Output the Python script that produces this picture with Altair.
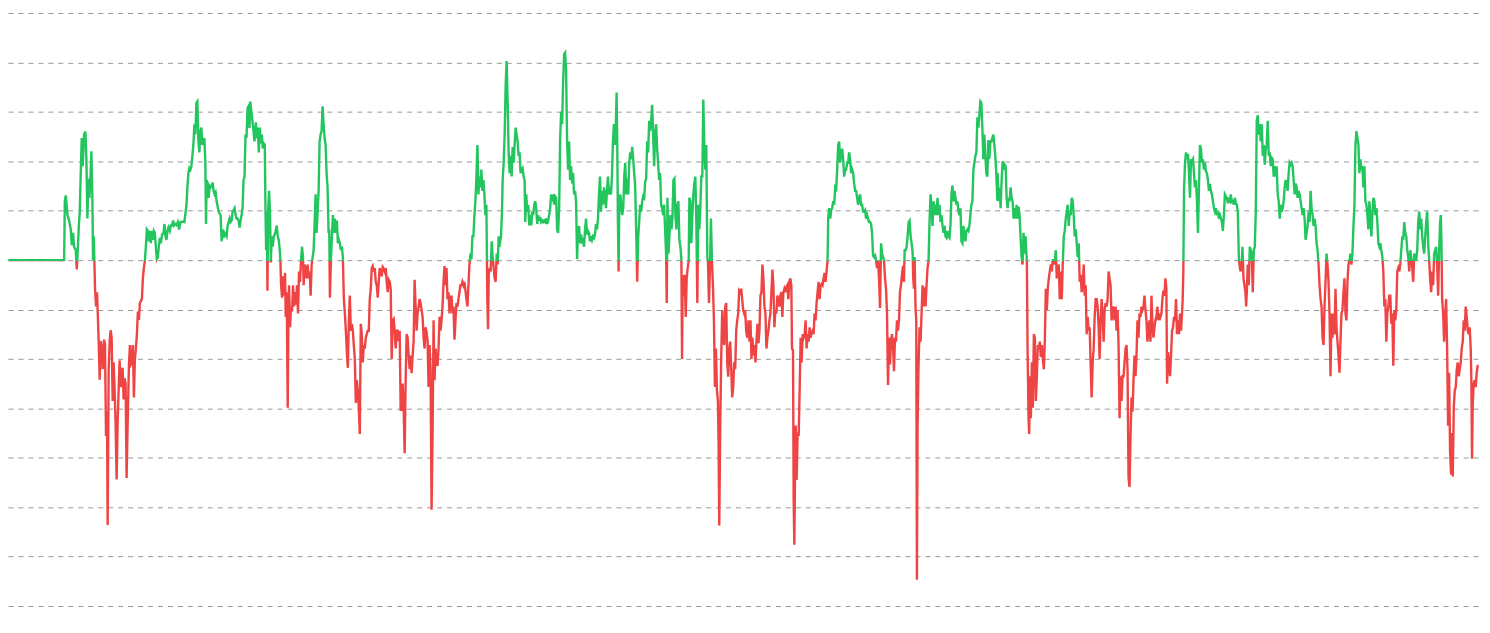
import altair as alt
import pandas as pd

# (time index, spread value) pairs, split into segments
seg_a = [(22,0),(190,0),(192,1.19),(195,1.31),(200,0.91),(205,0.8),(210,0.62),(213,0.3),(217,0.55),(220,0.27),(225,0.2),(228,-0.19),(231,0.2),(234,0.66),(237,0.98),(240,1.76),(243,2.47),(246,1.9),(250,2.54),(254,2.6),(257,2.04),(260,0.84),(263,1.65),(266,1.26),(269,1.62),(272,2.2),(275,1.26),(277,0),(279,0.48),(281,0),(283,-0.58),(286,-0.94),(289,-0.65),(291,-1.04),(294,-1.64),(297,-2.42),(300,-1.64),(303,-1.77),(306,-2.21),(310,-1.61),(313,-1.7),(316,-3.56),(319,-3.06),(321,-5.36),(324,-2.21),(327,-1.64),(330,-1.42),(333,-1.57),(336,-2.85),(339,-2.07),(342,-2.64),(345,-3.35),(348,-4.44),(351,-3.28),(354,-2.64),(357,-2.03),(360,-2.57),(363,-2.28),(366,-2.18),(369,-2.82),(372,-2.39),(375,-2.5),(378,-4.41),(381,-3.35),(385,-2.14),(388,-1.72),(391,-2.11),(394,-2.07),(397,-1.72),(400,-2.78),(403,-2.0),(406,-1.79),(409,-1.5),(412,-1.04),(415,-1.21),(418,-0.87),(421,-0.83),(424,-0.79),(427,-0.37),(430,-0.16),(433,-0.01),(436,0.27),(439,0.62),(442,0.59),(445,0.38),(448,0.59),(451,0.34),(454,0.59),(457,0.41),(460,0.59),(463,0.55),(466,0.27),(469,0.02),(472,0.06),(475,0.27),(478,0.45),(481,0.34),(485,0.52),(489,0.55),(492,0.73),(495,0.48),(498,0.41),(501,0.59),(504,0.66),(508,0.59),(511,0.7),(515,0.7),(518,0.8),(521,0.7),(525,0.73),(528,0.71),(532,0.77),(536,0.62),(540,0.77),(544,0.77),(548,0.78),(552,0.77),(555,0.94),(558,1.09),(561,1.47),(564,1.76),(567,1.86),(570,1.83),(573,1.9),(576,2.11),(579,2.33),(582,2.75),(585,2.54),(588,3.18),(591,3.21),(594,2.43),(597,2.18),(600,2.6),(603,2.68),(606,2.33),(609,2.4),(612,2.47),(615,2.01),(617,0.73),(619,1.62),(622,1.55),(625,1.26),(628,1.5),(631,1.47),(634,1.5),(637,1.57),(640,1.4),(643,1.33),(646,1.37),(649,1.19),(652,1.09),(655,0.98),(658,0.94),(661,0.91),(664,0.38),(667,0.62),(670,0.45),(673,0.55),(676,0.52),(679,0.48),(682,0.69),(685,0.77),(688,0.84),(691,0.77),(694,0.8),(697,0.98),(700,1.01),(703,1.05),(706,0.91),(709,0.84),(712,0.84),(715,0.8),(718,0.66),(721,0.8),(724,0.91),(727,1.05),(730,1.62),(733,1.69),(736,2.54),(739,2.47),(742,3.07),(745,3.11),(748,2.67)]

seg_b = [(750,3.21),(755,2.93),(760,2.61),(763,2.4),(767,2.79),(770,2.47),(773,2.68),(776,2.18),(779,2.68),(782,2.36),(785,2.54),(788,2.26),(791,2.36),(794,2.33),(796,1.05),(798,0.2),(800,0.98),(802,-0.62),(804,0.98),(807,1.4),(810,0.84),(812,-0.05),(815,0.48),(818,0.27),(821,0.48),(824,0.52),(827,0.59),(830,0.7),(833,0.48),(836,0.41),(839,0.2),(841,-0.01),(843,-0.51),(846,-0.76),(849,-0.33),(852,-0.72),(855,-0.26),(857,-1.15),(860,-0.65),(863,-2.99),(865,-1.22),(867,-0.51),(870,-1.36),(873,-0.94),(876,-1.04),(879,-0.51),(882,-0.94),(885,-0.65),(888,-0.9),(891,-0.51),(894,-1.08),(897,-0.23),(900,-0.44),(903,-0.01),(906,0.27),(909,0.06),(911,-0.51),(914,-0.09),(917,-0.19),(920,-0.37),(923,-0.09),(926,-0.37),(929,-0.23),(932,-0.72),(935,-0.09),(938,0.06),(941,0.2),(944,0.77),(947,1.33),(950,0.55),(953,0.98),(956,1.4),(959,2.4),(962,2.54),(965,2.61),(968,3.11),(971,2.75),(974,2.47),(977,2.33),(980,1.76),(983,1.47),(986,0.55),(988,0.62),(990,-0.76),(993,-0.01),(996,0.48),(999,0.91),(1002,0.55),(1005,0.84),(1008,0.55),(1011,0.8),(1014,0.34),(1017,0.41),(1020,0.34),(1023,0.2),(1026,0.27),(1029,0.06),(1032,-0.79),(1035,-1.08),(1038,-1.43),(1041,-1.86),(1044,-2.18),(1047,-1.22),(1050,-0.72),(1053,-1.43),(1056,-1.29),(1059,-1.43),(1062,-1.72),(1065,-2.0),(1068,-2.89),(1071,-2.43),(1074,-2.64),(1077,-2.99),(1080,-3.52),(1083,-1.29),(1086,-1.5),(1089,-2.07),(1092,-1.72),(1095,-1.79),(1098,-1.57),(1101,-1.5),(1104,-1.43),(1107,-1.43),(1110,-0.79),(1113,-0.58),(1116,-0.16),(1119,-0.12),(1122,-0.23),(1125,-0.16),(1128,-0.44),(1131,-0.51),(1134,-0.76),(1137,-0.44),(1140,-0.16),(1143,-0.23),(1146,-0.33),(1149,-0.14),(1152,-0.17),(1155,-0.23),(1158,-0.16),(1161,-0.44),(1164,-0.65),(1167,-0.4),(1170,-0.44),(1173,-0.58),(1176,-2.0),(1179,-1.22),(1182,-1.19),(1185,-1.43),(1188,-1.79),(1191,-1.43),(1194,-1.43),(1197,-1.64),(1200,-1.43),(1203,-3.03),(1206,-3.03),(1209,-2.5),(1212,-3.0),(1215,-3.91),(1218,-2.43),(1221,-1.5),(1224,-1.57),(1227,-1.93),(1230,-2.21),(1233,-1.93),(1236,-2.29),(1239,-1.93),(1242,-1.64),(1245,-0.4),(1248,-0.94),(1251,-1.43),(1254,-1.08),(1257,-0.94),(1260,-0.79),(1263,-0.87),(1266,-1.01),(1269,-1.15),(1272,-1.57),(1275,-1.79),(1278,-1.36),(1281,-1.46),(1284,-1.64),(1287,-2.57),(1290,-1.72),(1293,-2.21),(1296,-5.05),(1299,-3.56),(1302,-1.22),(1305,-2.43),(1308,-1.79),(1311,-2.07),(1314,-2.14),(1317,-1.79),(1320,-1.15),(1323,-1.43),(1326,-1.22),(1329,-0.94),(1332,-0.44),(1335,-0.12),(1338,-0.51),(1341,-0.16),(1344,-0.79),(1347,-0.65),(1350,-1.08),(1353,-0.79),(1356,-0.72),(1359,-1.08),(1362,-0.94),(1365,-1.61),(1368,-1.22),(1371,-0.87),(1374,-0.94),(1377,-0.79),(1380,-0.65),(1383,-0.51),(1386,-0.51),(1389,-0.44),(1392,-0.51),(1395,-0.44),(1398,-0.62),(1401,-0.79),(1404,-0.94),(1407,-0.51),(1410,-0.09),(1413,0.13),(1416,0.02),(1419,0.48),(1422,0.48),(1425,0.91),(1428,1.19),(1431,1.68),(1434,2.33),(1437,1.33),(1440,1.69),(1443,1.47),(1446,1.83),(1449,1.4),(1452,1.62),(1455,1.33),(1458,0.91),(1461,1.12),(1464,-0.83),(1466,-1.4),(1468,-0.3),(1471,-0.16),(1474,-0.23),(1477,0.38),(1480,0.06),(1483,-0.16),(1486,-0.37),(1489,-0.44),(1492,0.13),(1495,-0.09),(1498,0.48)]

seg_c = [(1500,0.27),(1505,0.48),(1508,0.98),(1510,1.62),(1513,1.97),(1516,2.54),(1519,3.53),(1522,4.03),(1525,3.21),(1528,2.18),(1531,1.76),(1534,2.11),(1537,1.69),(1540,2.29),(1543,1.97),(1546,2.33),(1549,2.68),(1552,2.54),(1555,2.4),(1558,2.11),(1561,2.18),(1564,1.76),(1567,1.83),(1570,1.86),(1573,1.69),(1576,1.62),(1578,0.77),(1581,1.33),(1584,0.98),(1587,1.12),(1590,0.7),(1593,0.91),(1596,0.7),(1599,0.98),(1602,0.91),(1605,1.12),(1608,1.19),(1611,1.05),(1614,0.73),(1617,0.91),(1620,0.8),(1623,0.87),(1626,0.77),(1629,0.8),(1632,0.77),(1635,0.8),(1638,0.77),(1641,0.84),(1644,0.73),(1647,0.8),(1650,0.91),(1653,1.05),(1656,1.33),(1659,1.19),(1662,1.33),(1665,1.12),(1668,1.29),(1671,1.26),(1674,0.62),(1677,0.55),(1680,1.05),(1683,2.43),(1686,3.0),(1689,2.75),(1692,3.6),(1695,4.17),(1698,4.2),(1701,3.82),(1704,2.4),(1707,1.83),(1710,2.4),(1713,1.62),(1716,1.9),(1719,1.55),(1722,1.76),(1725,1.33),(1728,1.4),(1731,1.19),(1734,0.02),(1737,0.62),(1740,0.69),(1743,0.34),(1746,0.52),(1749,0.38),(1752,0.41),(1755,0.27),(1758,0.62),(1761,0.84),(1764,0.52),(1767,0.59),(1770,0.55),(1773,0.38),(1776,0.48),(1779,0.41),(1782,0.48),(1785,0.45),(1788,0.52),(1791,0.73),(1794,0.62),(1797,0.84),(1800,1.33),(1803,1.69),(1806,0.98),(1809,1.4),(1812,1.12),(1815,1.47),(1818,1.33),(1821,1.05),(1824,1.4),(1827,1.69),(1830,1.33),(1833,1.4),(1836,1.33),(1839,1.69),(1842,2.4),(1845,2.75),(1848,2.33),(1851,2.82),(1853,3.39),(1855,2.33),(1857,0.77),(1859,-0.23),(1861,0.98),(1864,1.33),(1867,1.12),(1870,0.91),(1873,1.05),(1876,1.69),(1879,1.97),(1882,1.33),(1885,1.65),(1888,1.33),(1891,1.97),(1894,2.18),(1897,2.04),(1900,2.29),(1903,2.04),(1906,1.76),(1909,1.47),(1912,0.59),(1915,-0.44),(1918,0.48),(1921,0.77),(1924,1.12),(1927,0.98),(1930,1.19),(1933,1.29),(1936,1.26),(1939,1.58),(1942,1.65),(1945,2.4),(1948,2.18),(1951,2.82),(1954,2.61),(1957,2.82),(1960,3.14),(1963,2.54),(1966,1.9),(1969,2.54),(1972,2.75),(1975,2.25),(1978,1.97),(1981,1.62),(1984,1.76),(1987,1.12),(1990,1.05),(1993,0.91),(1996,1.12),(1999,0.62),(2002,0.13),(2004,-0.87),(2006,1.26),(2009,0.13),(2012,0.48),(2015,0.91),(2018,0.62),(2021,0.84),(2024,1.62),(2027,1.65),(2030,0.91),(2033,0.62),(2036,1.12),(2039,1.19),(2042,0.41),(2045,0.27),(2048,0.02),(2050,-2.0),(2052,-0.3),(2055,-0.72),(2058,-0.3),(2061,-1.15),(2064,-0.37),(2067,-0.16),(2070,-0.01),(2072,1.26),(2075,1.19),(2078,0.34),(2081,0.91),(2084,1.33),(2087,1.55),(2090,1.69),(2093,0.77),(2096,-0.87),(2099,1.12),(2102,0.62),(2105,1.05),(2108,1.69),(2111,1.69),(2114,3.25),(2117,2.33),(2120,1.83),(2123,2.33),(2126,0.06),(2128,-0.01),(2131,-0.87),(2134,-0.16),(2137,0.84),(2140,-0.01),(2143,-0.51),(2146,-1.22),(2149,-2.57),(2152,-1.79),(2155,-2.64),(2158,-2.85),(2160,-3.7),(2162,-5.37),(2165,-3.35),(2168,-1.93),(2171,-1.01),(2174,-1.57),(2177,-1.72),(2180,-0.94),(2183,-0.87),(2186,-2.07),(2189,-2.36),(2192,-1.79),(2195,-1.65),(2198,-2.21),(2201,-2.78),(2204,-2.57),(2207,-2.07),(2210,-2.21),(2213,-1.43),(2216,-1.22),(2219,-1.08),(2222,-0.62),(2225,-0.65),(2228,-0.58),(2231,-0.79),(2234,-1.01),(2237,-1.08),(2240,-1.01),(2243,-1.43),(2246,-1.57),(2249,-1.36)]

seg_d = [(2250,-1.22),(2253,-1.65),(2256,-1.22),(2259,-2.0),(2262,-1.57),(2265,-1.93),(2268,-1.72),(2271,-2.07),(2274,-1.65),(2277,-1.29),(2280,-1.68),(2283,-1.43),(2286,-0.72),(2289,-0.65),(2292,-0.09),(2295,-0.37),(2298,-0.94),(2301,-1.08),(2304,-1.79),(2307,-1.57),(2310,-1.43),(2313,-1.22),(2316,-1.08),(2319,-0.65),(2322,-0.19),(2325,-0.51),(2328,-1.36),(2331,-1.01),(2334,-1.08),(2337,-0.72),(2340,-0.79),(2343,-0.94),(2346,-0.72),(2349,-0.65),(2352,-1.15),(2355,-0.65),(2358,-0.58),(2361,-0.65),(2364,-0.55),(2367,-0.51),(2370,-0.79),(2373,-0.44),(2376,-0.37),(2379,-0.51),(2381,-1.79),(2384,-1.82),(2386,-4.84),(2388,-5.76),(2390,-4.41),(2392,-3.35),(2395,-4.45),(2398,-3.49),(2401,-3.56),(2404,-2.64),(2407,-1.57),(2410,-2.07),(2413,-1.5),(2416,-1.57),(2419,-1.5),(2422,-1.22),(2425,-1.79),(2428,-1.5),(2431,-1.65),(2434,-1.36),(2437,-1.57),(2440,-1.47),(2443,-1.43),(2446,-1.5),(2449,-1.08),(2452,-1.22),(2455,-0.87),(2458,-0.65),(2461,-0.44),(2464,-0.79),(2467,-0.51),(2470,-0.48),(2473,-0.51),(2476,-0.37),(2479,-0.26),(2482,-0.44),(2485,-0.23),(2488,-0.01),(2490,0.84),(2493,1.05),(2496,0.84),(2499,1.01),(2502,1.05),(2505,1.19),(2508,1.12),(2511,1.47),(2514,1.44),(2517,1.83),(2520,2.33),(2523,2.4),(2526,1.97),(2529,2.18),(2532,2.25),(2535,2.04),(2538,1.69),(2541,1.83),(2544,1.83),(2547,1.97),(2550,1.97),(2553,2.18),(2556,2.04),(2559,1.76),(2562,1.83),(2565,1.76),(2568,1.55),(2571,1.4),(2574,1.4),(2577,1.26),(2580,1.12),(2583,1.26),(2586,1.33),(2589,1.12),(2592,1.12),(2595,0.98),(2598,0.98),(2601,1.01),(2604,0.84),(2607,0.91),(2610,0.84),(2613,0.77),(2616,0.77),(2619,0.73),(2622,0.55),(2625,0.09),(2628,0.06),(2631,0.09),(2634,-0.01),(2637,-0.16),(2640,-0.01),(2643,-0.37),(2646,-0.97),(2649,0.34),(2652,0.13),(2655,0.06),(2658,-0.01),(2661,-0.37),(2664,-0.58),(2667,-1.08),(2670,-2.53),(2673,-1.57),(2676,-2.11),(2679,-1.65),(2682,-1.5),(2685,-1.72),(2688,-2.25),(2691,-1.57),(2694,-1.65),(2697,-1.22),(2700,-1.43),(2703,-1.22),(2706,-0.65),(2709,-0.51),(2712,-0.3),(2715,-0.12),(2718,-0.44),(2720,0.2),(2723,0.2),(2726,0.27),(2729,0.48),(2732,0.77),(2735,0.8),(2738,0.48),(2741,0.34),(2744,0.16),(2746,-0.37),(2748,-0.58),(2750,0.06),(2753,-0.99),(2755,-1.22),(2757,-6.47),(2759,-3.35),(2762,-2.07),(2765,-1.36),(2768,-1.65),(2771,-1.08),(2774,-0.51),(2777,-0.94),(2780,-0.55),(2783,-0.94),(2786,-0.51),(2789,-0.16),(2792,-0.01),(2795,0.77),(2798,1.33),(2801,1.05),(2804,0.69),(2807,1.19),(2810,0.91),(2813,1.12),(2816,0.91),(2819,1.26),(2822,0.91),(2825,1.12),(2828,0.77),(2831,0.91),(2834,0.7),(2837,0.55),(2840,0.7),(2843,0.48),(2846,0.45),(2849,0.59),(2852,0.48),(2855,0.45),(2858,0.7),(2861,1.33),(2864,1.51),(2867,1.19),(2870,1.4),(2873,1.26),(2876,1.12),(2879,1.19),(2882,0.98),(2885,0.91),(2888,1.05),(2891,0.38),(2894,0.34),(2897,0.69),(2900,0.48),(2903,0.38),(2906,0.59),(2909,0.62),(2912,0.59),(2915,0.7),(2918,0.91),(2921,1.12),(2924,1.19),(2927,1.83),(2930,1.97),(2933,2.11),(2936,2.18),(2939,2.89),(2942,2.68),(2945,2.93),(2948,3.21),(2951,3.18),(2954,2.68),(2957,2.04),(2960,2.54),(2963,2.11),(2966,1.76),(2969,1.69),(2972,2.43),(2975,2.04),(2978,2.4),(2981,2.4),(2984,2.47),(2987,2.54),(2990,2.33),(2993,2.11),(2996,1.76),(2999,1.2)]

seg_e = [(3000,1.76),(3003,1.19),(3006,1.47),(3009,1.05),(3012,1.62),(3015,2.0),(3018,1.83),(3021,1.93),(3024,1.9),(3027,1.26),(3030,1.05),(3033,1.26),(3036,1.19),(3039,1.47),(3042,1.26),(3045,1.19),(3048,0.84),(3051,1.05),(3054,0.84),(3057,1.12),(3060,0.84),(3063,1.08),(3066,0.91),(3069,0.48),(3072,0.06),(3075,-0.09),(3078,0.55),(3081,0.13),(3084,0.48),(3086,0.2),(3088,-0.01),(3090,-1.72),(3093,-3.2),(3095,-3.52),(3097,-2.35),(3100,-3.2),(3103,-2.07),(3106,-2.99),(3109,-1.5),(3112,-1.57),(3115,-2.85),(3118,-2.35),(3121,-1.72),(3124,-1.79),(3127,-1.65),(3130,-1.96),(3133,-1.72),(3136,-2.0),(3139,-2.21),(3142,-1.65),(3145,-0.58),(3148,-1.01),(3151,-0.58),(3154,-0.37),(3157,-0.23),(3160,-0.09),(3163,-0.23),(3166,0.02),(3169,-0.09),(3172,-0.01),(3175,0.2),(3178,-0.37),(3181,-0.23),(3184,-0.09),(3187,-0.79),(3190,-0.23),(3193,-0.79),(3196,-0.09),(3199,0.48),(3202,0.59),(3205,0.84),(3208,0.98),(3211,1.12),(3214,0.69),(3217,0.98),(3220,0.91),(3223,1.26),(3226,1.19),(3229,0.91),(3232,0.48),(3235,0.62),(3238,0.34),(3241,0.06),(3244,0.34),(3247,-0.44),(3250,-0.3),(3253,-0.65),(3256,-0.51),(3259,-0.09),(3262,-0.72),(3265,-0.51),(3268,-1.5),(3271,-1.15),(3274,-1.43),(3277,-1.36),(3280,-2.14),(3283,-2.78),(3286,-2.07),(3289,-1.79),(3292,-1.15),(3295,-0.79),(3298,-0.79),(3301,-0.94),(3304,-1.36),(3307,-2.0),(3310,-1.22),(3313,-0.79),(3316,-1.08),(3319,-1.65),(3322,-1.01),(3325,-0.87),(3328,-0.94),(3331,-0.79),(3334,-0.23),(3337,-0.37),(3340,-0.51),(3343,-1.22),(3346,-1.08),(3349,-0.94),(3352,-1.22),(3355,-0.94),(3358,-1.43),(3361,-1.01),(3364,-1.72),(3367,-3.2),(3370,-2.35),(3373,-2.85),(3376,-2.35),(3379,-2.35),(3382,-2.07),(3385,-1.79),(3388,-1.72),(3391,-2.21),(3394,-4.41),(3397,-4.59),(3400,-3.56),(3403,-2.78),(3406,-3.07),(3409,-2.43),(3412,-1.93),(3415,-2.35),(3418,-1.93),(3421,-1.22),(3424,-1.57),(3427,-1.08),(3430,-1.15),(3433,-0.94),(3436,-1.01),(3439,-0.94),(3442,-0.72),(3445,-1.01),(3448,-1.22),(3451,-1.65),(3454,-1.36),(3457,-1.22),(3460,-1.65),(3463,-0.72),(3466,-1.29),(3469,-1.57),(3472,-1.36),(3475,-1.22),(3478,-1.15),(3481,-0.94),(3484,-1.22),(3487,-1.08),(3490,-1.15),(3493,-1.08),(3496,-0.79),(3499,-0.62),(3502,-0.72),(3505,-0.37),(3508,-0.58),(3510,-2.5),(3513,-1.86),(3516,-2.07),(3519,-2.35),(3522,-1.93),(3525,-1.43),(3528,-1.36),(3531,-1.15),(3534,-1.22),(3537,-0.79),(3540,-1.5),(3543,-1.22),(3546,-1.5),(3549,-1.08),(3552,-1.43),(3555,-1.08),(3557,-0.79),(3559,-0.23),(3561,1.4),(3564,1.97),(3567,2.18),(3570,2.04),(3573,2.15),(3576,1.76),(3579,1.26),(3582,2.04),(3585,2.0),(3588,2.04),(3591,1.76),(3594,1.47),(3597,1.62),(3600,1.19),(3603,0.55),(3606,1.47),(3609,2.33),(3612,2.25),(3615,1.97),(3618,2.04),(3621,1.83),(3624,1.97),(3627,1.79),(3630,1.76),(3633,1.62),(3636,1.4),(3639,1.54),(3642,1.4),(3645,1.33),(3648,1.19),(3651,1.05),(3654,0.98),(3657,1.05),(3660,0.91),(3663,0.98),(3666,0.84),(3669,0.91),(3672,0.84),(3675,0.77),(3678,0.59),(3681,0.91),(3684,1.33),(3687,1.29),(3690,1.26),(3693,1.15),(3696,1.22),(3699,1.19),(3702,1.33),(3705,1.15),(3708,1.22),(3711,1.12),(3714,1.26),(3717,1.15),(3720,1.12),(3723,0.98),(3726,0.06),(3728,-0.09),(3731,-0.23),(3734,-0.16),(3737,0.27),(3740,-0.37),(3743,-0.51),(3746,-0.65),(3748,-0.94)]

seg_f = [(3750,-0.65),(3753,-0.09),(3756,-0.51),(3759,0.27),(3762,0.2),(3765,0.13),(3768,-0.65),(3771,0.2),(3774,0.27),(3777,0.98),(3780,2.82),(3783,2.93),(3786,2.54),(3789,2.75),(3792,2.4),(3795,2.75),(3798,2.11),(3801,2.33),(3804,1.93),(3807,2.25),(3810,2.33),(3813,2.82),(3816,2.11),(3819,2.18),(3822,1.9),(3825,2.07),(3828,2.04),(3831,1.69),(3834,1.9),(3837,1.69),(3840,1.9),(3843,1.33),(3846,1.19),(3849,0.84),(3852,1.12),(3855,0.98),(3858,1.05),(3861,1.19),(3864,1.47),(3867,1.62),(3870,1.55),(3873,1.4),(3876,1.76),(3879,1.97),(3882,1.93),(3885,1.97),(3888,1.9),(3891,1.62),(3894,1.33),(3897,1.55),(3900,1.47),(3903,1.26),(3906,1.4),(3909,1.33),(3912,1.19),(3915,1.05),(3918,0.91),(3921,1.05),(3924,0.84),(3927,0.41),(3930,0.55),(3933,0.69),(3936,0.98),(3939,0.77),(3942,1.4),(3945,1.05),(3948,0.91),(3951,0.69),(3954,0.84),(3957,0.69),(3960,0.34),(3963,0.2),(3966,-0.09),(3969,-0.51),(3972,-0.79),(3975,-0.94),(3978,-1.57),(3981,-1.72),(3984,-0.94),(3987,-0.44),(3990,0.13),(3993,-0.09),(3996,-0.44),(3999,-1.08),(4002,-2.35),(4005,-1.08),(4008,-1.57),(4011,-1.08),(4014,-1.5),(4017,-0.58),(4020,-1.36),(4023,-1.65),(4026,-1.93),(4029,-2.28),(4032,-1.65),(4035,-1.08),(4038,-1.01),(4041,-0.65),(4044,-0.37),(4047,-1.08),(4050,-1.22),(4053,-0.44),(4056,-0.09),(4059,-0.01),(4062,0.13),(4065,-0.09),(4068,0.13),(4071,0.69),(4074,1.12),(4077,2.33),(4080,2.61),(4083,2.47),(4086,2.33),(4089,1.76),(4092,2.04),(4095,1.83),(4098,1.9),(4101,1.47),(4104,1.9),(4107,1.19),(4110,1.12),(4113,0.91),(4116,0.62),(4119,1.19),(4122,0.91),(4125,0.48),(4128,0.91),(4131,1.26),(4134,1.19),(4137,0.91),(4140,1.05),(4143,0.77),(4146,0.34),(4149,0.27),(4152,0.34),(4155,0.2),(4158,0.06),(4161,-0.23),(4164,-0.94),(4167,-0.79),(4170,-1.65),(4173,-1.08),(4176,-0.94),(4179,-0.72),(4182,-0.72),(4185,-1.29),(4188,-1.08),(4191,-2.14),(4194,-1.01),(4197,-1.22),(4200,-1.01),(4203,-0.23),(4206,-0.16),(4209,-0.23),(4212,-0.09),(4215,0.2),(4218,0.48),(4221,0.41),(4224,0.77),(4227,0.55),(4230,0.48),(4233,0.2),(4236,0.06),(4239,-0.23),(4242,0.2),(4245,0.06),(4248,-0.16),(4251,-0.44),(4254,0.13),(4257,0.06),(4260,-0.01),(4263,0.2),(4266,0.77),(4269,0.98),(4272,0.62),(4275,0.84),(4278,0.48),(4281,0.27),(4284,0.13),(4287,0.48),(4290,0.77),(4293,0.98),(4296,0.34),(4299,-0.01),(4302,-0.37),(4305,-0.65),(4308,-0.23),(4311,-0.51),(4314,0.13),(4317,0.2),(4320,0.27),(4323,-0.09),(4326,-0.72),(4329,0.2),(4332,0.77),(4334,0.91),(4336,0.34),(4338,-0.79),(4341,-1.08),(4344,-1.65),(4347,-1.15),(4350,-0.79),(4353,-1.79),(4356,-3.35),(4359,-2.28),(4362,-3.9),(4365,-4.34),(4368,-3.5),(4370,-4.38),(4373,-2.99),(4376,-2.64),(4379,-2.57),(4382,-2.21),(4385,-2.07),(4388,-2.35),(4391,-2.21),(4394,-2.07),(4397,-1.79),(4400,-1.65),(4403,-1.22),(4406,-1.43),(4409,-0.94),(4412,-1.15),(4415,-1.43),(4418,-1.5),(4421,-1.36),(4424,-1.79),(4426,-2.43),(4428,-4.02),(4430,-2.93),(4433,-2.5),(4436,-2.43),(4439,-2.57),(4442,-2.28),(4445,-2.14),(4448,-2.14)]

grid_values = [-7, -6, -5, -4, -3, -2, -1, 0, 1, 2, 3, 4, 5]
x_domain = [21, 4458]

GREEN = "#22c55e"
RED = "#ef4444"

rows = seg_a + seg_b + seg_c + seg_d + seg_e + seg_f
df = pd.DataFrame(rows, columns=["t", "v"])

vmax = float(df["v"].max())
vmin = float(df["v"].min())
# colour boundary sits at zero, nudged a hair below so the flat zero run reads green
off = (vmax + 0.025) / (vmax - vmin)

grad = alt.Gradient(
    gradient="linear",
    stops=[
        alt.GradientStop(color=GREEN, offset=0),
        alt.GradientStop(color=GREEN, offset=off),
        alt.GradientStop(color=RED, offset=off),
        alt.GradientStop(color=RED, offset=1),
    ],
    x1=0, x2=0, y1=0, y2=1,
)

chart = (
    alt.Chart(df)
    .mark_line(color=grad, strokeWidth=2.4, interpolate="linear")
    .encode(
        x=alt.X("t:Q", scale=alt.Scale(domain=x_domain, nice=False, zero=False), axis=None),
        y=alt.Y(
            "v:Q",
            scale=alt.Scale(domain=[grid_values[0], grid_values[-1]], nice=False, zero=False),
            axis=alt.Axis(
                values=grid_values, grid=True, labels=False, ticks=False, domain=False,
                title=None, gridDash=[5, 5], gridColor="#999999", gridWidth=1,
            ),
        ),
    )
    .properties(
        width=1479, height=595,
        padding={"left": 0, "top": 4, "right": 0, "bottom": 0},
        autosize=alt.AutoSizeParams(type="none"),
        background="white",
    )
    .configure_view(strokeWidth=0)
)

chart.save("out.html", embed_options={"renderer": "svg", "actions": False})
